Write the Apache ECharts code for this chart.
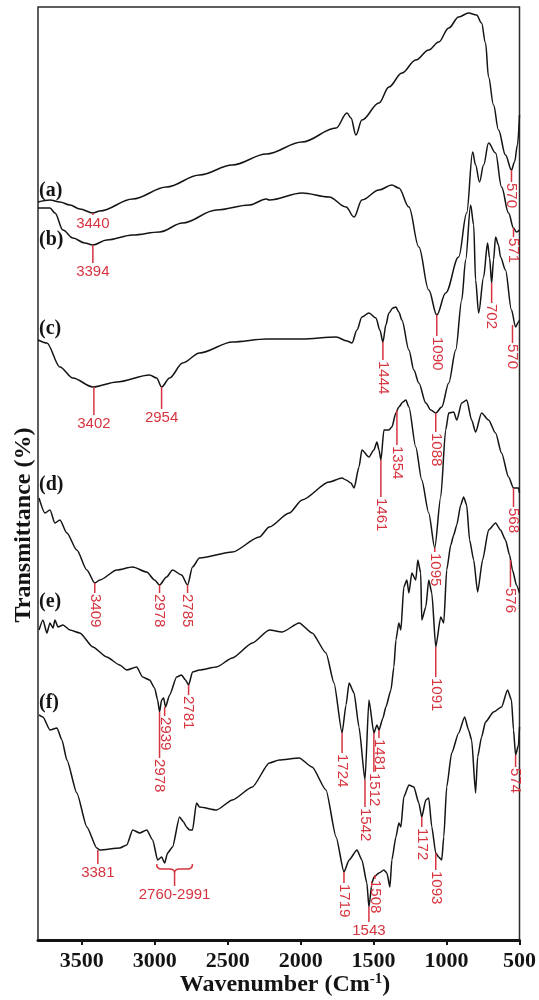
<!DOCTYPE html>
<html><head><meta charset="utf-8">
<script src="https://cdn.jsdelivr.net/npm/echarts@6/dist/echarts.min.js"></script>
<style>html,body{margin:0;padding:0;background:#fff}#c{width:539px;height:1000px}</style>
</head><body><div id="c"></div>
<script>
// x tick labels (wavenumber, cm-1)
const tickValues = [500, 1000, 1500, 2000, 2500, 3000, 3500];

// spectra: [wavenumber, offset transmittance (a.u.)]
const specA = [[3800,738],[3718,740],[3650,738],[3581,735],[3513,731],[3424,727],[3376,729],[3151,741],[2919,753],[2693,765],[2468,775],[2235,786],[1990,798],[1757,812],[1682,827],[1655,822],[1621,805],[1580,820],[1463,837],[1395,853],[1306,867],[1211,880],[1122,890],[1054,898],[985,912],[917,923],[849,927],[794,925],[760,917],[733,897],[712,863],[678,835],[644,810],[596,785],[555,770],[534,778],[514,795],[500,825]];
const specB = [[3800,732],[3718,732],[3684,727],[3629,710],[3561,702],[3479,697],[3424,695],[3329,700],[3151,705],[2967,708],[2809,717],[2577,730],[2352,735],[2235,741],[2215,740],[1990,747],[1805,743],[1689,733],[1634,723],[1580,740],[1463,750],[1375,755],[1327,752],[1258,733],[1190,693],[1122,650],[1067,625],[1006,647],[917,683],[862,727],[821,788],[801,775],[774,758],[746,775],[712,797],[664,787],[623,753],[575,727],[541,712],[521,708],[500,710]];
const specC = [[3800,600],[3739,597],[3650,573],[3561,562],[3424,553],[3260,558],[3035,565],[2987,562],[2953,553],[2898,562],[2809,577],[2693,587],[2468,598],[2235,601],[1990,601],[1757,603],[1682,599],[1648,597],[1614,610],[1580,623],[1532,627],[1484,622],[1457,610],[1436,598],[1416,615],[1395,627],[1368,632],[1347,633],[1327,628],[1306,620],[1258,590],[1224,570],[1190,557],[1142,537],[1108,530],[1074,527],[1033,533],[985,557],[937,590],[896,640],[869,680],[835,735],[814,715],[801,660],[780,627],[746,663],[719,697],[705,682],[691,657],[678,680],[664,703],[644,695],[630,683],[596,670],[555,630],[527,613],[507,618],[500,620]];
const specD = [[3793,442],[3752,427],[3718,430],[3684,417],[3650,420],[3602,407],[3534,390],[3465,370],[3411,357],[3376,360],[3260,370],[3151,373],[3055,368],[3001,360],[2967,355],[2919,363],[2878,370],[2816,365],[2775,355],[2741,373],[2693,382],[2468,388],[2283,403],[2215,413],[2078,427],[1990,440],[1805,458],[1716,462],[1689,460],[1655,457],[1634,452],[1600,473],[1580,490],[1532,483],[1498,490],[1477,498],[1463,490],[1450,480],[1429,510],[1395,510],[1375,513],[1347,527],[1327,533],[1299,538],[1279,540],[1258,533],[1211,493],[1170,460],[1122,427],[1081,392],[1040,443],[1006,510],[985,527],[951,528],[930,520],[896,537],[862,540],[828,520],[801,508],[760,527],[712,520],[664,507],[623,487],[575,463],[541,452],[507,452],[500,447]];
const specE = [[3793,310],[3766,320],[3739,307],[3718,317],[3697,312],[3684,320],[3663,313],[3629,315],[3581,310],[3513,307],[3424,293],[3329,283],[3240,275],[3192,270],[3124,273],[3083,263],[3035,260],[3001,252],[2980,240],[2967,228],[2953,240],[2939,242],[2926,233],[2898,245],[2850,263],[2816,265],[2789,260],[2768,255],[2741,268],[2693,270],[2577,273],[2468,282],[2331,297],[2215,310],[2126,308],[2010,317],[1921,307],[1826,287],[1771,257],[1716,207],[1689,235],[1668,257],[1634,247],[1600,213],[1559,160],[1532,240],[1498,207],[1477,215],[1463,210],[1436,222],[1416,233],[1381,250],[1361,273],[1347,300],[1327,317],[1313,310],[1293,353],[1272,360],[1258,347],[1238,367],[1211,360],[1197,380],[1177,367],[1170,320],[1142,333],[1122,360],[1101,347],[1074,293],[1040,323],[1019,317],[999,370],[971,395],[951,405],[930,415],[903,435],[883,443],[862,435],[842,400],[814,380],[787,348],[753,380],[712,410],[664,417],[630,410],[596,400],[568,385],[548,370],[521,355],[500,347]];
const specF = [[3793,225],[3766,223],[3718,210],[3670,212],[3636,200],[3602,180],[3534,147],[3465,113],[3397,92],[3376,90],[3240,92],[3192,95],[3151,110],[3103,107],[3055,110],[3014,100],[2980,80],[2953,83],[2932,77],[2912,87],[2878,93],[2830,123],[2802,118],[2782,113],[2762,110],[2741,110],[2714,137],[2693,133],[2577,130],[2468,140],[2331,153],[2215,177],[2147,180],[2010,182],[1921,173],[1826,150],[1757,103],[1703,68],[1668,80],[1614,90],[1580,80],[1546,57],[1532,33],[1511,57],[1498,63],[1463,67],[1429,70],[1409,67],[1388,53],[1375,80],[1347,103],[1327,117],[1313,113],[1293,143],[1258,155],[1224,153],[1190,137],[1170,123],[1142,140],[1122,142],[1101,113],[1074,87],[1054,83],[1033,80],[1019,103],[999,153],[965,187],[917,207],[876,223],[849,210],[828,200],[801,147],[787,183],[760,203],[733,218],[678,228],[623,233],[582,250],[555,240],[541,210],[527,185],[507,195],[500,213]];

// sample labels
const sampleNames = ['(a)', '(b)', '(c)', '(d)', '(e)', '(f)'];
const sampleWn = [3793, 3793, 3793, 3793, 3793, 3793];
const sampleVal = [749, 700, 611, 455, 338, 237];

// peak annotations
const annWn   = [3424,3424, 555, 541, 691,1067, 548,1436,3417,2953,1074,1340,1450, 541,3411,2967,2775,1081, 562,2768,2932,2967,1074,1716,1559,1498,1463, 527,1170,1074,1703,1491,1532,3390];
const annFrom = [ 727, 695, 770, 712, 657, 625, 615, 598, 553, 553, 527, 530, 480, 452, 357, 355, 355, 392, 380, 255, 233, 228, 293, 207, 160, 207, 210, 185, 123,  87,  68,  65,  33,  90];
const annTo   = [ 725, 677, 758, 703, 637, 604, 597, 580, 525, 531, 508, 495, 443, 433, 347, 347, 347, 388, 353, 245, 224, 182, 263, 187, 133, 168, 202, 173, 113,  70,  57,  61,  18,  76];
const annText = ['3440','3394','570','571','702','1090','570','1444','3402','2954','1088','1354','1461','568','3409','2978','2785','1095','576','2781','2939','2978','1091','1724','1542','1512','1481','574','1172','1093','1719','1508','1543','3381'];
const annVertical = [0,0,1,1,1,1,1,1,0,0,1,1,1,1,1,1,1,1,1,1,1,1,1,1,1,1,1,1,1,1,1,1,0,0];

// bracket annotation 2760-2991
const braceWn = [2987, 2864, 2741];
const braceVal = [76, 71, 67, 54];
const braceText = '2760-2991';

const RED = '#d6343f';
const INK = '#141414';
const SERIF = '"Liberation Serif", "Times New Roman", serif';
const SANS = '"Liberation Sans", Arial, sans-serif';

const chart = echarts.init(document.getElementById('c'), null, {renderer: 'canvas'});

function lineSeries(name, data, smooth) {
  return {
    name, type: 'line', data, showSymbol: false, symbol: 'none',
    smooth: smooth, smoothMonotone: 'x',
    lineStyle: {color: INK, width: 1.5}, z: 3, animation: false
  };
}

const annData = annWn.map((w, i) => [w, annFrom[i], annTo[i], i]);
const labelData = sampleWn.map((w, i) => [w, sampleVal[i], i]);

const option = {
  animation: false,
  backgroundColor: '#fff',
  grid: {left: 38, top: 7, width: 484, height: 933, show: true, borderColor: '#2a2a2a', borderWidth: 1.5, containLabel: false},
  xAxis: {
    type: 'value', inverse: true, min: 500, max: 3800,
    axisLine: {show: true, onZero: false, lineStyle: {color: INK, width: 3}},
    axisTick: {show: true, length: 5, customValues: tickValues, lineStyle: {color: INK, width: 2}},
    axisLabel: {customValues: tickValues, margin: 10, color: INK, fontFamily: SERIF, fontWeight: 'bold', fontSize: 22,
                formatter: v => String(v)},
    splitLine: {show: false}
  },
  yAxis: {type: 'value', min: 0, max: 933, show: false},
  graphic: [
    {type: 'text', x: 24, y: 525, rotation: Math.PI / 2,
     style: {text: 'Transmittance (%)', fill: INK, font: 'bold 24px ' + SERIF, align: 'center', verticalAlign: 'middle'}},
    {type: 'text', x: 285, y: 985,
     style: {text: '{t|Wavenumber (Cm}{s|-1}{t|)}', align: 'center', verticalAlign: 'middle',
       rich: {t: {fontFamily: SERIF, fontWeight: 'bold', fontSize: 24, fill: INK, lineHeight: 26},
              s: {fontFamily: SERIF, fontWeight: 'bold', fontSize: 15, fill: INK, verticalAlign: 'top', lineHeight: 26}}}}
  ],
  series: [
    lineSeries('a', specA, 0.35), lineSeries('b', specB, 0.35), lineSeries('c', specC, 0.3),
    lineSeries('d', specD, 0.25), lineSeries('e', specE, 0.2), lineSeries('f', specF, 0.2),
    {
      type: 'custom', data: annData, clip: false, z: 4,
      encode: {x: 0, y: [1, 2]},
      renderItem: function (params, api) {
        const i = api.value(3);
        const p1 = api.coord([api.value(0), api.value(1)]);
        const p2 = api.coord([api.value(0), api.value(2)]);
        const vert = annVertical[i] === 1;
        return {type: 'group', children: [
          {type: 'line', shape: {x1: p1[0], y1: p1[1], x2: p2[0], y2: p2[1]}, style: {stroke: RED, lineWidth: 1.5}},
          {type: 'text', x: p2[0], y: p2[1] + 1, rotation: vert ? -Math.PI / 2 : 0,
           style: {text: annText[i], fill: RED, fontFamily: SANS, fontSize: 15,
                   align: vert ? 'left' : 'center', verticalAlign: vert ? 'middle' : 'top'}}
        ]};
      }
    },
    {
      type: 'custom', data: [[braceWn[1], braceVal[0]]], clip: false, z: 4,
      renderItem: function (params, api) {
        const L = api.coord([braceWn[0], braceVal[0]]);
        const R = api.coord([braceWn[2], braceVal[0]]);
        const M = api.coord([braceWn[1], braceVal[1]]);
        const C = api.coord([braceWn[1], braceVal[2]]);
        const S = api.coord([braceWn[1], braceVal[3]]);
        const yb = M[1];
        const d = 'M' + L[0] + ' ' + L[1] +
          ' Q' + L[0] + ' ' + yb + ' ' + (L[0] + 5) + ' ' + yb +
          ' L' + (C[0] - 5) + ' ' + yb +
          ' Q' + C[0] + ' ' + yb + ' ' + C[0] + ' ' + C[1] +
          ' Q' + C[0] + ' ' + yb + ' ' + (C[0] + 5) + ' ' + yb +
          ' L' + (R[0] - 5) + ' ' + yb +
          ' Q' + R[0] + ' ' + yb + ' ' + R[0] + ' ' + R[1];
        return {type: 'group', children: [
          {type: 'path', shape: {pathData: d}, style: {stroke: RED, fill: null, lineWidth: 1.5}},
          {type: 'line', shape: {x1: C[0], y1: C[1], x2: S[0], y2: S[1]}, style: {stroke: RED, lineWidth: 1.5}},
          {type: 'text', x: S[0], y: S[1] + 1,
           style: {text: braceText, fill: RED, fontFamily: SANS, fontSize: 15, align: 'center', verticalAlign: 'top'}}
        ]};
      }
    },
    {
      type: 'custom', data: labelData, clip: false, z: 4,
      encode: {x: 0, y: 1},
      renderItem: function (params, api) {
        const i = api.value(2);
        const p = api.coord([api.value(0), api.value(1)]);
        return {type: 'text', x: p[0], y: p[1],
          style: {text: sampleNames[i], fill: INK, fontFamily: SERIF, fontWeight: 'bold', fontSize: 20, align: 'left', verticalAlign: 'middle'}};
      }
    }
  ]
};
chart.setOption(option);
</script>
</body></html>
